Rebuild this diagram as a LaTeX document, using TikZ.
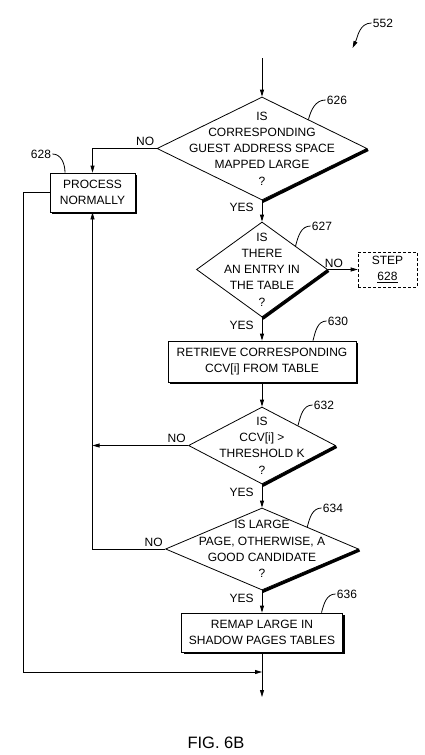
\documentclass[tikz,border=0pt]{standalone}
\usepackage{fontspec}
\setmainfont{Liberation Sans}
\usetikzlibrary{shapes.geometric,shadows,arrows.meta}
\begin{document}
\begin{tikzpicture}[font=\fontsize{12}{16.3}\selectfont, line width=0.8pt,
  >={Triangle[length=7pt,width=4pt]},
  box/.style={draw, fill=white, inner sep=0pt, align=center,
    general shadow={fill=black, shadow xshift=2pt, shadow yshift=-2pt}},
  stepbox/.style={draw, densely dashed, line width=0.6pt, inner sep=0pt,
    align=center, minimum width=59pt, minimum height=35pt},
  dia/.style={draw, shape=diamond, inner sep=0pt},
  diatext/.style={align=center, inner sep=0pt},
  rim/.style={line width=3pt},
  tag/.style={inner sep=1pt},
  yes/.style={pos=0.35, left=7pt, inner sep=1pt},
  no/.style={above left, inner sep=2pt}]
\begin{scope}[x=1pt,y=-1pt]
\useasboundingbox (0,0) rectangle (424,755);
\node [dia,minimum width=210pt,minimum height=103pt] (d626) at (262,148.5) {};
\node [diatext] (t626) at (d626) {IS\\CORRESPONDING\\GUEST ADDRESS SPACE\\MAPPED LARGE\\?};
\node [dia,minimum width=131pt,minimum height=95pt] (d627) at (262,269.5) {};
\node [diatext] (t627) at (d627) {IS\\THERE\\AN ENTRY IN\\THE TABLE\\?};
\node [dia,minimum width=147pt,minimum height=77pt] (d632) at (262,445.5) {};
\node [diatext] (t632) at (d632) {IS\\CCV[i] >\\THRESHOLD K\\?};
\node [dia,minimum width=193pt,minimum height=82pt] (d634) at (262,549) {};
\node [diatext] (t634) at (d634) {IS LARGE\\PAGE, OTHERWISE, A\\GOOD CANDIDATE\\?};
\draw [rim] ([shift={(0.6,1.1)}]d626.south) -- ([shift={(0.6,1.1)}]d626.east);
\draw [rim] ([shift={(0.6,1.1)}]d627.south) -- ([shift={(0.6,1.1)}]d627.east);
\draw [rim] ([shift={(0.6,1.1)}]d632.south) -- ([shift={(0.6,1.1)}]d632.east);
\draw [rim] ([shift={(0.6,1.1)}]d634.south) -- ([shift={(0.6,1.1)}]d634.east);
\node [box,minimum width=85pt,minimum height=39pt] (b628) at (92.5,192.5) {PROCESS\\NORMALLY};
\node [box,minimum width=188pt,minimum height=41pt] (b630) at (262,361.5) {RETRIEVE CORRESPONDING\\CCV[i] FROM TABLE};
\node [box,minimum width=161pt,minimum height=39pt] (b636) at (262,632.5) {REMAP LARGE IN\\SHADOW PAGES TABLES};
\node [stepbox] (s628) at (387.5,269.5) {STEP\\\underline{628}};
\coordinate (top) at (262,58);
\coordinate (join) at (262,672);
\coordinate (end) at (262,697);
\draw [->] (top) -- (d626.north);
\draw [->] (d626.south) -- node [yes] {YES} (d627.north);
\draw [->] (d627.south) -- node [yes] {YES} (b630.north);
\draw [->] (b630.south) -- (d632.north);
\draw [->] (d632.south) -- node [yes] {YES} (d634.north);
\draw [->] (d634.south) -- node [yes] {YES} (b636.north);
\draw [->] (b636.south) -- (end);
\draw [->] (d626.west) node [no] {NO} -| (b628.north);
\draw [->] (d627.east) -- node [pos=0.2,above,inner sep=1.5pt] {NO} (s628.west);
\draw [->] (d632.west) node [no] {NO} -- (d632.west -| b628.south);
\draw [->] (d634.west) node [no] {NO} -| (b628.south);
\draw [->] (b628.west) -- ++(-26,0) |- (join);
\node [tag] (n552) at (383,23) {552};
\draw [->] (n552.west) to [out=180,in=65] ++(-19,25);
\node [tag] (n626) at (337,100) {626};
\draw (d626.32) to [out=75,in=180] (n626.west);
\node [tag] (n627) at (322,226) {627};
\draw (d627.35) to [out=75,in=180] (n627.west);
\node [tag] (n628) at (41,154) {628};
\draw (n628.east) to [out=0,in=90] ([xshift=-27.5pt]b628.north);
\node [tag] (n630) at (338,321) {630};
\draw ([xshift=51pt]b630.north) to [out=75,in=180] (n630.west);
\node [tag] (n632) at (324,405) {632};
\draw (d632.29) to [out=75,in=180] (n632.west);
\node [tag] (n634) at (333,508) {634};
\draw (d634.26) to [out=75,in=180] (n634.west);
\node [tag] (n636) at (347,594) {636};
\draw ([xshift=59.5pt]b636.north) to [out=75,in=180] (n636.west);
\node (fig) at (216,743) {\fontsize{16.5}{20}\selectfont FIG. 6B};
\end{scope}
\end{tikzpicture}
\end{document}
